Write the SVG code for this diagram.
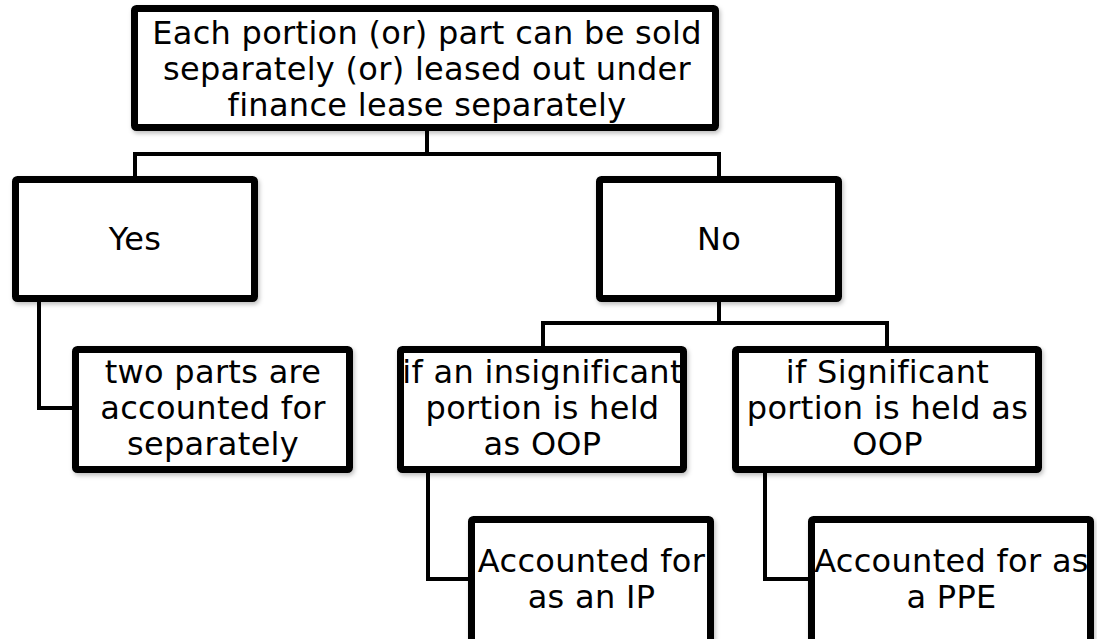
<svg xmlns="http://www.w3.org/2000/svg" width="1097" height="639" viewBox="0 0 1097 639">
  <style>
    .box { fill: #ffffff; stroke: #000000; stroke-width: 7; }
    .lbl { font-family: "DejaVu Sans", Verdana, sans-serif; font-size: 32px; letter-spacing: 0.3px; fill: #000000; text-anchor: middle; }
    .conn { fill: none; stroke: #000000; stroke-width: 4; stroke-linejoin: miter; }
  </style>
  <defs>
    <filter id="shadow" x="-10%" y="-10%" width="125%" height="130%">
      <feDropShadow dx="1.5" dy="2.5" stdDeviation="2" flood-color="#000000" flood-opacity="0.25"/>
    </filter>
  </defs>
  <rect width="1097" height="639" fill="#ffffff"/>

  <g id="connectors">
    <path class="conn" d="M427 131 V154 M135 154 H719 M135 152 V176 M719 152 V176"/>
    <path class="conn" d="M39 302 V408 H72"/>
    <path class="conn" d="M719 302 V323 M543 323 H887 M543 321 V346 M887 321 V346"/>
    <path class="conn" d="M428 473 V579 H468"/>
    <path class="conn" d="M765 473 V579 H809"/>
  </g>

  <g id="node-root">
    <rect class="box" x="134.5" y="8.5" width="581" height="119" rx="2" filter="url(#shadow)"/>
    <text class="lbl" x="427" y="43.5">Each portion (or) part can be sold</text>
    <text class="lbl" x="427" y="79.5">separately (or) leased out under</text>
    <text class="lbl" x="427" y="115.5">finance lease separately</text>
  </g>

  <g id="node-yes">
    <rect class="box" x="15.5" y="179.5" width="239" height="119" rx="2" filter="url(#shadow)"/>
    <text class="lbl" x="135" y="250">Yes</text>
  </g>

  <g id="node-no">
    <rect class="box" x="599.5" y="179.5" width="239" height="119" rx="2" filter="url(#shadow)"/>
    <text class="lbl" x="719" y="250">No</text>
  </g>

  <g id="node-separate">
    <rect class="box" x="75.5" y="349.5" width="274" height="120" rx="2" filter="url(#shadow)"/>
    <text class="lbl" x="213" y="383">two parts are</text>
    <text class="lbl" x="213" y="419">accounted for</text>
    <text class="lbl" x="213" y="455">separately</text>
  </g>

  <g id="node-insignificant">
    <rect class="box" x="400.5" y="349.5" width="283" height="120" rx="2" filter="url(#shadow)"/>
    <text class="lbl" x="542.5" y="383">if an insignificant</text>
    <text class="lbl" x="542.5" y="419">portion is held</text>
    <text class="lbl" x="542.5" y="455">as OOP</text>
  </g>

  <g id="node-significant">
    <rect class="box" x="735.5" y="349.5" width="303" height="120" rx="2" filter="url(#shadow)"/>
    <text class="lbl" x="887.5" y="383">if Significant</text>
    <text class="lbl" x="887.5" y="419">portion is held as</text>
    <text class="lbl" x="887.5" y="455">OOP</text>
  </g>

  <g id="node-ip">
    <rect class="box" x="471.5" y="519.5" width="239" height="126" rx="2" filter="url(#shadow)"/>
    <text class="lbl" x="591.5" y="571.5">Accounted for</text>
    <text class="lbl" x="591.5" y="607.5">as an IP</text>
  </g>

  <g id="node-ppe">
    <rect class="box" x="811.5" y="519.5" width="279" height="126" rx="2" filter="url(#shadow)"/>
    <text class="lbl" x="951.5" y="571.5">Accounted for as</text>
    <text class="lbl" x="951.5" y="607.5">a PPE</text>
  </g>
</svg>
